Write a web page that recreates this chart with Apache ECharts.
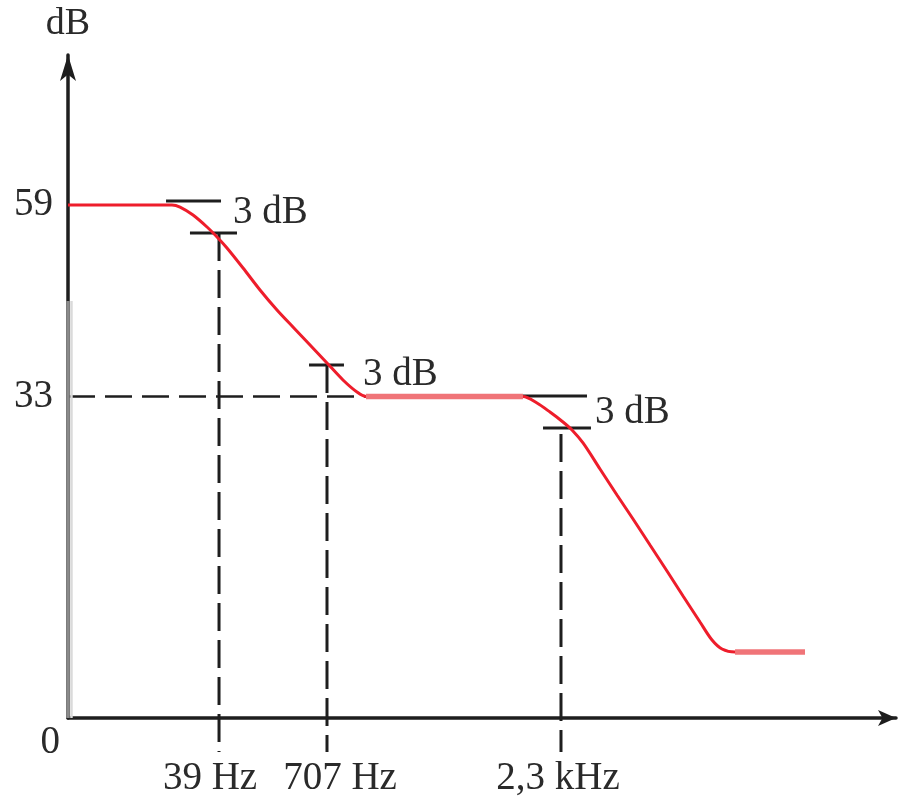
<!DOCTYPE html>
<html>
<head>
<meta charset="utf-8">
<script src="https://cdn.jsdelivr.net/npm/echarts@6/dist/echarts.min.js"></script>
<style>
  html, body { margin: 0; padding: 0; background: #fff; }
  #chart { width: 907px; height: 798px; }
</style>
</head>
<body>
<div id="chart"></div>
<script>
// Schematic Bode magnitude plot. Both axes run 0–100 in chart units;
// the tick labels carry the real dB levels and corner frequencies.
const levelLabels = ['0', '33', '59'];
const levelPos = [0, 48.5, 77.38];
const freqLabels = ['39 Hz', '707 Hz', '2,3 kHz'];
const freqPos = [18.24, 31.28, 59.54];

// magnitude response
const curveX = [0, 12.56, 13.53, 15.10, 16.79, 18.00, 19.20, 21.14, 23.19, 25.24, 27.17, 29.23,
  31.28, 33.21, 34.90, 35.99, 54.95, 56.64, 58.21, 59.78, 60.87, 62.20, 64.25, 66.30, 68.24,
  70.29, 72.34, 74.28, 76.33, 77.78, 78.99, 80.56, 89.01];
const curveY = [77.38, 77.38, 77.07, 75.87, 74.06, 72.55, 70.89, 67.87, 64.56, 61.54, 58.97, 56.26,
  53.55, 50.98, 49.17, 48.5, 48.5, 47.51, 46.15, 44.65, 43.44, 41.48, 37.56, 33.63, 30.02,
  26.09, 22.17, 18.40, 14.48, 11.76, 10.41, 9.95, 9.95];

// mid and high plateaus (drawn a little heavier)
const plateauFrom = [35.99, 80.56];
const plateauTo = [54.95, 89.01];
const plateauLevel = [48.5, 9.95];

// short bars bracketing each 3 dB step
const barFrom = [11.84, 14.73, 29.11, 53.99, 57.37];
const barTo = [18.48, 20.41, 33.33, 62.68, 63.16];
const barLevel = [77.98, 73.15, 53.24, 48.57, 43.74];

// dashed drop lines from the corner frequencies down past the axis
const dropTop = [73.15, 53.24, 42.84];
const dropBottom = -5.13;

// 33 dB guide line
const guideLevel = 48.5;
const guideEnd = 35.99;

// "3 dB" notes
const noteText = ['3 dB', '3 dB', '3 dB'];
const noteX = [19.93, 35.63, 63.65];
const noteY = [76.17, 51.73, 46.0];

// faded lower part of the ordinate
const axisFadeTop = 62.9;

const FONT = 'Liberation Serif';
const INK = '#1e1e1e';
const TEXT = '#2a2a2a';

function nearestIndex(arr, v) {
  let best = 0;
  for (let i = 1; i < arr.length; i++) {
    if (Math.abs(arr[i] - v) < Math.abs(arr[best] - v)) best = i;
  }
  return best;
}

const txt = { fontFamily: FONT, fontSize: 39, color: TEXT };

const series = [];

// drops (drawn first so the curve sits on top)
freqPos.forEach((x, i) => {
  series.push({
    type: 'line', clip: false, silent: true, symbol: 'none', z: 2,
    data: [[x, dropTop[i]], [x, dropBottom]],
    lineStyle: { color: INK, width: 3, type: [28, 9] }
  });
});

series.push({
  type: 'line', clip: false, silent: true, symbol: 'none', z: 2,
  data: [[0, guideLevel], [guideEnd, guideLevel]],
  lineStyle: { color: INK, width: 2.5, type: [27, 10] }
});

barFrom.forEach((x, i) => {
  series.push({
    type: 'line', clip: false, silent: true, symbol: 'none', z: 3,
    data: [[x, barLevel[i]], [barTo[i], barLevel[i]]],
    lineStyle: { color: INK, width: 3 }
  });
});

series.push({
  type: 'line', clip: false, silent: true, symbol: 'none', z: 4,
  data: [[0, 0], [0, axisFadeTop]],
  lineStyle: { color: '#8a8a8a', width: 3.5 }
});
series.push({
  type: 'line', clip: false, silent: true, symbol: 'none', z: 4,
  data: [[0.42, 0], [0.42, axisFadeTop]],
  lineStyle: { color: '#dadada', width: 2.5 }
});

series.push({
  type: 'line', clip: false, silent: true, symbol: 'none', z: 5,
  smooth: 0.3,
  data: curveX.map((x, i) => [x, curveY[i]]),
  lineStyle: { color: '#ee1d2b', width: 3 }
});

plateauFrom.forEach((x, i) => {
  series.push({
    type: 'line', clip: false, silent: true, symbol: 'none', z: 6,
    data: [[x, plateauLevel[i]], [plateauTo[i], plateauLevel[i]]],
    lineStyle: { color: '#f07478', width: 5.5 }
  });
});

series.push({
  type: 'scatter', clip: false, silent: true, symbolSize: 0, z: 7,
  itemStyle: { opacity: 1 },
  data: noteX.map((x, i) => [x, noteY[i], noteText[i]]),
  label: {
    show: true, position: 'right', distance: 0,
    formatter: p => p.data[2],
    ...txt
  }
});

const chart = echarts.init(document.getElementById('chart'), null, { renderer: 'canvas' });
chart.setOption({
  animation: false,
  backgroundColor: '#fff',
  grid: { left: 68, right: 11, top: 55, bottom: 80, outerBoundsMode: 'none' },
  xAxis: {
    type: 'value', min: 0, max: 100,
    axisLine: {
      show: true, onZero: false,
      lineStyle: { color: INK, width: 3.5 },
      symbol: ['none', 'arrow'], symbolSize: [12, 18]
    },
    axisTick: { show: false },
    splitLine: { show: false },
    axisLabel: {
      customValues: freqPos,
      margin: 41,
      ...txt,
      formatter: v => {
        const i = nearestIndex(freqPos, v);
        return '{f' + i + '|' + freqLabels[i] + '}';
      },
      rich: {
        f0: { ...txt, padding: [0, 18, 0, 0] },
        f1: { ...txt, padding: [0, 0, 0, 26] },
        f2: { ...txt, padding: [0, 6, 0, 0] }
      }
    }
  },
  yAxis: {
    type: 'value', min: 0, max: 100,
    name: 'dB', nameLocation: 'end', nameGap: 12,
    nameTextStyle: { fontFamily: FONT, fontSize: 38, color: TEXT, align: 'center' },
    axisLine: {
      show: true, onZero: false,
      lineStyle: { color: INK, width: 3.5 },
      symbol: ['none', 'arrow'], symbolSize: [12, 26]
    },
    axisTick: { show: false },
    splitLine: { show: false },
    axisLabel: {
      customValues: levelPos,
      margin: 8,
      ...txt,
      formatter: v => {
        const i = nearestIndex(levelPos, v);
        return (i === 0 ? '{z|' : '{v|') + levelLabels[i] + '}';
      },
      rich: {
        z: { ...txt, padding: [50, 0, 0, 0] },
        v: { ...txt, padding: [0, 7, 0, 0] }
      }
    }
  },
  series: series
});
</script>
</body>
</html>
